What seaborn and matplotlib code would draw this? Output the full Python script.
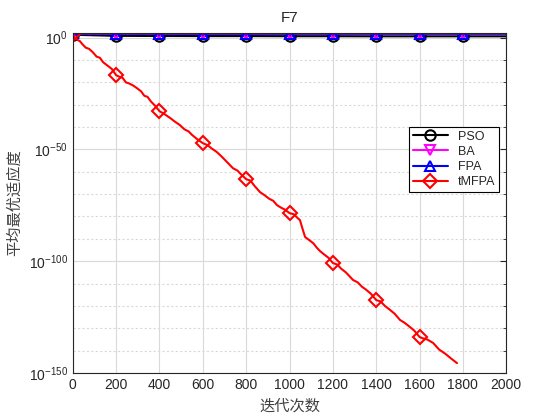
import numpy as np
import pandas as pd
import matplotlib
matplotlib.use('Agg')
import matplotlib.pyplot as plt
import seaborn as sns
from matplotlib.ticker import NullFormatter

# Iterations and log10 fitness values
iters_flat = [0, 200, 400, 600, 800, 1000, 1200, 1400, 1600, 1800, 2000]
pso_log = [1.3, 0.8, 0.75, 0.7, 0.7, 0.65, 0.65, 0.6, 0.6, 0.6, 0.6]
ba_log = [1.8, 1.7, 1.7, 1.7, 1.7, 1.7, 1.7, 1.7, 1.7, 1.7, 1.7]
fpa_log = [1.9, 1.8, 1.8, 1.8, 1.8, 1.8, 1.8, 1.8, 1.8, 1.8, 1.8]

iters_tm = [0, 10, 20, 32, 45, 60, 75, 92, 110, 125, 140, 160, 180, 200,
            215, 230, 245, 260, 280, 296, 315, 330, 345, 360, 380, 400,
            420, 435, 450, 470, 494, 515, 535, 550, 575, 600,
            620, 640, 665, 690, 715, 739, 760, 780, 800,
            820, 840, 864, 885, 905, 925, 942, 960, 980, 1000,
            1020, 1035, 1048, 1060, 1072, 1090, 1110, 1127, 1141, 1160, 1180, 1200,
            1220, 1240, 1260, 1293, 1315, 1335, 1350, 1375, 1400,
            1420, 1440, 1460, 1485, 1510, 1530, 1550, 1575, 1600,
            1615, 1635, 1663, 1690, 1720, 1745, 1773]
tm_log = [1.5, 0.0, -1.0, -1.5, -3.0, -4.5, -5.0, -6.5, -8.5, -9.0, -11.0, -12.5, -14.0, -16.8,
          -17.5, -18.0, -20.0, -20.5, -21.5, -22.6, -24.0, -26.0, -26.5, -28.5, -30.5, -32.9,
          -34.0, -35.0, -36.0, -37.5, -39.1, -41.0, -42.0, -43.5, -45.5, -47.2,
          -48.0, -49.5, -51.2, -53.5, -56.0, -58.4, -59.5, -61.5, -63.3,
          -64.0, -66.5, -69.1, -70.5, -72.0, -73.0, -74.9, -76.0, -77.0, -78.5,
          -79.0, -80.5, -81.6, -85.5, -89.2, -90.5, -92.0, -94.1, -95.5, -97.0, -98.5, -100.8,
          -101.5, -103.5, -105.0, -108.4, -109.5, -111.5, -112.5, -114.5, -117.4,
          -118.0, -120.0, -121.5, -123.5, -126.3, -127.5, -129.0, -131.0, -133.9,
          -134.5, -135.0, -136.6, -139.5, -141.5, -143.5, -145.6]

series_names = ['PSO', 'BA', 'FPA', 'tMFPA']
series_colors = ['black', 'magenta', 'blue', 'red']
series_markers = ['o', 'v', '^', 'D']

sns.set_style('white')
plt.rcParams['font.family'] = ['Liberation Sans', 'Noto Sans CJK SC', 'DejaVu Sans']
plt.rcParams['mathtext.fontset'] = 'custom'
plt.rcParams['mathtext.rm'] = 'Liberation Sans'

fig = plt.figure(figsize=(5.6, 4.2), dpi=100)
ax = fig.add_axes([0.130, 0.112, 0.774, 0.809])

data = [
    (iters_flat, pso_log),
    (iters_flat, ba_log),
    (iters_flat, fpa_log),
    (iters_tm, tm_log),
]
for (xs, ys), name, col, mk in zip(data, series_names, series_colors, series_markers):
    xs = np.array(xs)
    vals = 10.0 ** np.array(ys)
    # markers every 200 iterations, like the original
    marks = list(np.where((xs % 200 == 0) & (xs < 2000))[0])
    sns.lineplot(x=xs, y=vals, ax=ax, color=col, marker=mk, markevery=marks,
                 markersize=7.5, markerfacecolor='none',
                 markeredgecolor=col, markeredgewidth=1.5, linewidth=1.5,
                 label=name, estimator=None, sort=False)

ax.set_yscale('log')
ax.set_xlim(0, 2000)
ax.set_ylim(1e-150, 1e2)
ax.set_xticks(range(0, 2001, 200))
ax.set_yticks([1e-150, 1e-100, 1e-50, 1e0])
ax.set_yticks([10.0 ** k for k in range(-150, 1, 10) if k % 50 != 0], minor=True)
ax.yaxis.set_minor_formatter(NullFormatter())

ax.grid(True, which='major', axis='both', color='#d9d9d9', linewidth=0.8, linestyle='-')
ax.grid(True, which='minor', axis='y', color='#d9d9d9', linewidth=0.8, linestyle=(0, (2, 2)))
ax.set_axisbelow(True)

ax.tick_params(direction='in', which='both', top=True, right=True, labelsize=10,
               colors='#262626', length=4)
ax.tick_params(which='minor', length=2.5)
for sp in ax.spines.values():
    sp.set_color('#262626')
    sp.set_linewidth(0.8)

ax.set_title('F7', fontsize=11, color='#262626', pad=8)
ax.set_xlabel('迭代次数', fontsize=11, color='#404040', family=['Noto Sans CJK SC', 'DejaVu Sans'])
ax.set_ylabel('平均最优适应度', fontsize=11, color='#404040', family=['Noto Sans CJK SC', 'DejaVu Sans'])

leg = ax.legend(loc='upper left', bbox_to_anchor=(0.776, 0.724), fontsize=9,
                frameon=True, fancybox=False, edgecolor='black', framealpha=1,
                handlelength=2.8, borderpad=0.3, labelspacing=0.25, borderaxespad=0)
leg.get_frame().set_linewidth(0.8)

fig.savefig('out.png', dpi=100)
